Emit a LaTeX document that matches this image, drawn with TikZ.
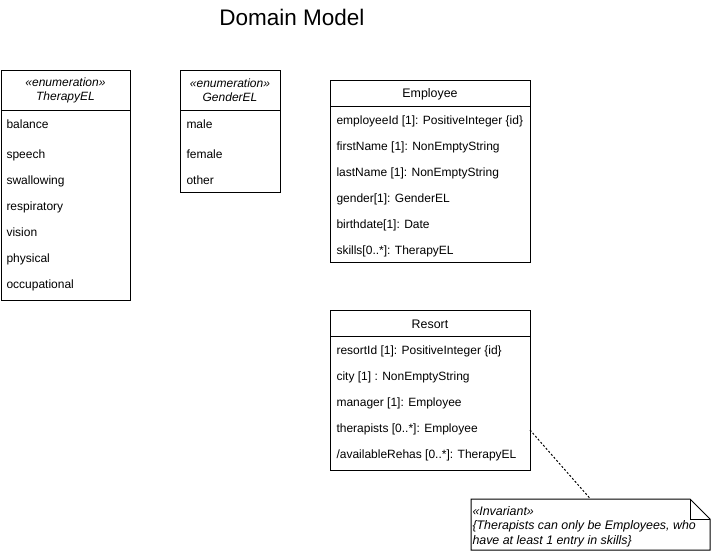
\documentclass[tikz,border=0pt]{standalone}
\usepackage{fontspec}
\setmainfont{Liberation Sans}
\begin{document}
\begin{tikzpicture}[x=1pt,y=-1pt,line width=1pt,
  box/.style={draw,anchor=north west,inner sep=0,outer sep=0},
  attr/.style={anchor=base west,inner sep=0,font=\fontsize{12}{14}\selectfont},
  hdr/.style={align=center,inner sep=0,font=\fontsize{12}{14}\selectfont\itshape},
  ttl/.style={inner sep=0,font=\fontsize{12.4}{14}\selectfont},
  notetxt/.style={anchor=base west,inner sep=0,font=\fontsize{12.4}{14}\selectfont\itshape}]
\useasboundingbox (0,0) rectangle (711,551);
\node[inner sep=0,font=\fontsize{22.5}{26}\selectfont] (title) at (292,17) {Domain Model};

% TherapyEL
\node[box,minimum width=129,minimum height=230] (ther) at (1,70) {};
\draw (1,110) -- (130,110);
\node[hdr] (therh) at (65.5,90) {«enumeration»\\TherapyEL};
\foreach \t/\y [count=\i] in {balance/128,speech/158,swallowing/184,respiratory/210,vision/236,physical/262,occupational/288}
  \node[attr] (ther\i) at (6,\y) {\t};

% GenderEL
\node[box,minimum width=100,minimum height=122] (gen) at (180,70) {};
\draw (180,110) -- (280,110);
\node[hdr] (genh) at (230,90) {«enumeration»\\GenderEL};
\foreach \t/\y [count=\i] in {male/128,female/158,other/184}
  \node[attr] (gen\i) at (186,\y) {\t};

% Employee
\node[box,minimum width=200,minimum height=182] (emp) at (330,80) {};
\draw (330,106) -- (530,106);
\node[ttl] (empt) at (430,94.5) {Employee};
\foreach \t/\y [count=\i] in {{employeeId [1]: PositiveInteger \{id\}}/124,{firstName [1]: NonEmptyString}/150,{lastName [1]: NonEmptyString}/176,{gender[1]: GenderEL}/202,{birthdate[1]: Date}/228,{skills[0..*]: TherapyEL}/254}
  \node[attr] (emp\i) at (336,\y) {\t};

% Resort
\node[box,minimum width=200,minimum height=160] (res) at (330,310) {};
\draw (330,336) -- (530,336);
\node[ttl] (rest) at (430,324.5) {Resort};
\foreach \t/\y [count=\i] in {{resortId [1]: PositiveInteger \{id\}}/354,{city [1] : NonEmptyString}/380,{manager [1]: Employee}/406,{therapists [0..*]: Employee}/432,{/availableRehas [0..*]: TherapyEL}/458}
  \node[attr] (res\i) at (336,\y) {\t};

% Note
\node[inner sep=0,outer sep=0,minimum width=239,minimum height=51,anchor=north west] (note) at (471,499) {};
\draw (note.north west) -- ++(219,0) -- (note.north east |- 0,519) -- (note.south east) -- (note.south west) -- cycle;
\draw (690,499) -- (690,519) -- (710,519);
\node[notetxt] (n1) at (472,515) {«Invariant»};
\node[notetxt] (n2) at (472,529.5) {\{Therapists can only be Employees, who};
\node[notetxt] (n3) at (472,544) {have at least 1 entry in skills\}};

\coordinate (ra) at (530,430);
\draw[dash pattern=on 2pt off 2pt] (ra) -- (note.north);
\end{tikzpicture}
\end{document}
